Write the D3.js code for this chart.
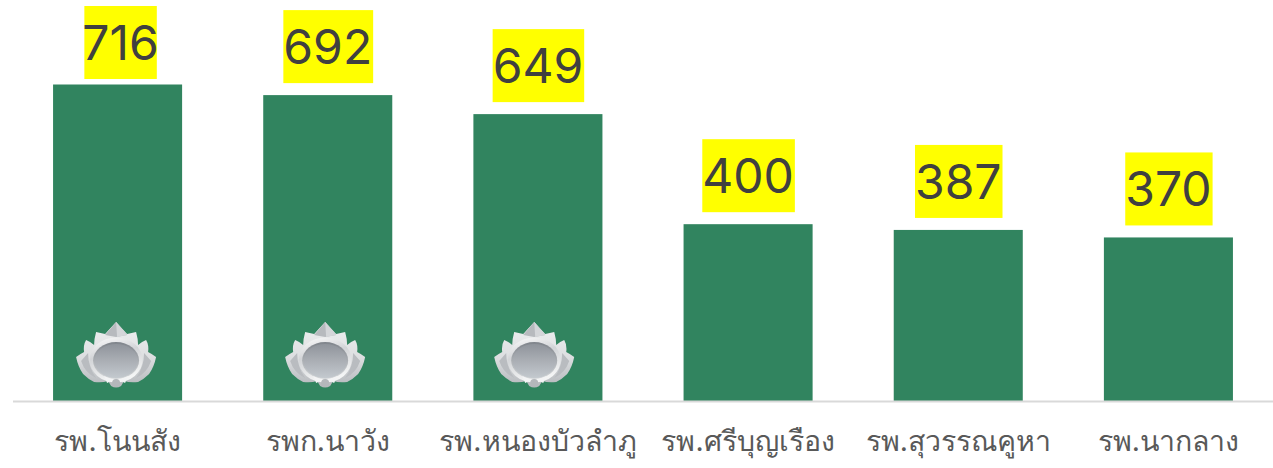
<!DOCTYPE html>
<html>
<head>
<meta charset="utf-8">
<script src="https://cdn.jsdelivr.net/npm/d3@7"></script>
<style>
  html, body { margin: 0; padding: 0; background: #fff; }
  svg { display: block; }
  text { font-family: Inter, "Noto Sans", "DejaVu Sans", sans-serif; }
</style>
</head>
<body>
<div id="chart"></div>
<script>
const hospitals = ["รพ.โนนสัง", "รพก.นาวัง", "รพ.หนองบัวลำภู", "รพ.ศรีบุญเรือง", "รพ.สุวรรณคูหา", "รพ.นากลาง"];
const totals = [716, 692, 649, 400, 387, 370];
const medalHospitals = ["รพ.โนนสัง", "รพก.นาวัง", "รพ.หนองบัวลำภู"];

const width = 1273, height = 468;
const baseY = 401;

const svg = d3.select('#chart').append('svg')
  .attr('width', width)
  .attr('height', height);

const scaleX = d3.scaleBand()
  .domain(hospitals)
  .range([12.5, 1273.5])
  .paddingInner(0.386)
  .paddingOuter(0.193);

const scaleY = d3.scaleLinear()
  .domain([0, 716])
  .range([baseY, 84.5]);

// gradients for the silver medal
const defs = svg.append('defs');
function grad(id, x2, y2, stops) {
  const g = defs.append('linearGradient').attr('id', id)
    .attr('x1', 0).attr('y1', 0).attr('x2', x2).attr('y2', y2);
  stops.forEach(s => g.append('stop').attr('offset', s[0]).attr('stop-color', s[1]));
}
grad('leaf', 0, 1, [[0, '#eef0f1'], [0.55, '#dcdee0'], [1, '#b4b7bb']]);
grad('ring', 0.3, 1, [[0, '#fdfdfd'], [0.45, '#d2d4d7'], [1, '#f4f5f5']]);
grad('rim', 0, 1, [[0, '#7f848b'], [1, '#d5d8da']]);
grad('face', 0, 1, [[0, '#8f949b'], [0.45, '#a8acb2'], [1, '#c3c9ce']]);
defs.append('filter').attr('id', 'soft')
  .append('feGaussianBlur').attr('stdDeviation', 0.5);

// bars
svg.selectAll('rect.bar')
  .data(totals)
  .enter()
  .append('rect')
  .attr('class', 'bar')
  .attr('x', (d, i) => scaleX(hospitals[i]))
  .attr('y', d => scaleY(d))
  .attr('width', scaleX.bandwidth())
  .attr('height', d => baseY - scaleY(d))
  .attr('fill', '#31845f');

// axis line + category labels
const xAxis = d3.axisBottom(scaleX).tickSize(0).tickPadding(30);
const axisG = svg.append('g')
  .attr('transform', `translate(0,${baseY})`)
  .call(xAxis);
axisG.select('.domain').attr('stroke', '#d9d9d9').attr('stroke-width', 2);
axisG.selectAll('text')
  .attr('font-size', 28.5)
  .attr('fill', '#595959')
  .style('font-family', 'Inter, "Noto Sans", "DejaVu Sans", sans-serif');

// yellow value labels, the tallest one gets pushed down against the top edge
const labelTop = d => Math.max(6, scaleY(d) - 85);
const labelX = (d, i) => scaleX(hospitals[i]) + scaleX.bandwidth() / 2 + (d === d3.max(totals) ? 3 : 0);

const labels = svg.selectAll('g.lab')
  .data(totals)
  .enter()
  .append('g')
  .attr('class', 'lab');

labels.append('text')
  .attr('x', labelX)
  .attr('y', d => labelTop(d) + 54)
  .attr('text-anchor', 'middle')
  .attr('font-size', 48)
  .attr('fill', '#404040')
  .text(d => d);

labels.insert('rect', 'text')
  .attr('fill', '#ffff00')
  .each(function (d, i) {
    const w = this.parentNode.querySelector('text').getComputedTextLength();
    d3.select(this)
      .attr('x', labelX(d, i) - w / 2 + (d === d3.max(totals) ? 2 : 0))
      .attr('width', d === d3.max(totals) ? w - 4 : w + 1)
      .attr('y', labelTop(d))
      .attr('height', 73);
  });

// medals on the top three
const medals = svg.selectAll('g.medal')
  .data(medalHospitals)
  .enter()
  .append('g')
  .attr('class', 'medal')
  .attr('filter', 'url(#soft)')
  .attr('transform', (d, i) => `translate(${scaleX(d) + scaleX.bandwidth() / 2 - 1.5 - i * 1.1},359)`);

// petals behind the ring
medals.append('path')
  .attr('d', 'M-40,-2 Q-36,-5 -32,-7 Q-33,-14 -30,-19 Q-25,-17 -22,-14 Q-22,-20 -20,-27 L-11,-25 L0,-37 L11,-25 L20,-27 Q22,-20 22,-14 Q25,-17 30,-19 Q33,-14 32,-7 Q36,-5 40,-2 Q38,8 33,15 Q28,20 22,23 Q14,24 8,22 L5,27 Q0,30 -5,27 L-8,22 Q-14,24 -22,23 Q-28,20 -33,15 Q-38,8 -40,-2 Z')
  .attr('fill', 'url(#leaf)');
// crown at the top
medals.append('path')
  .attr('d', 'M0,-37 L11,-24 L0,-22 L-11,-24 Z')
  .attr('fill', '#b7babe');
medals.append('path')
  .attr('d', 'M0,-37 L11,-24 L1,-22 Z')
  .attr('fill', '#d4d6d9');
// darker side folds
medals.append('path')
  .attr('d', 'M-35,2 Q-31,14 -20,19 Q-28,8 -28,-6 Z M35,2 Q31,14 20,19 Q28,8 28,-6 Z')
  .attr('fill', '#b9bcc0');
// ring
medals.append('ellipse')
  .attr('cy', 1).attr('rx', 26.5).attr('ry', 22.5)
  .attr('fill', 'url(#ring)');
medals.append('ellipse')
  .attr('cy', 1.5).attr('rx', 23).attr('ry', 18.5)
  .attr('fill', 'url(#rim)');
// face
medals.append('ellipse')
  .attr('cy', 2).attr('rx', 21.5).attr('ry', 17)
  .attr('fill', 'url(#face)');
// bottom gem and clasps
medals.append('path')
  .attr('d', 'M-12,17 L-3,21 L-9,24 Z M12,17 L3,21 L9,24 Z')
  .attr('fill', '#f3f4f5');
medals.append('circle')
  .attr('cy', 24).attr('r', 4)
  .attr('fill', '#b4b7bb');
</script>
</body>
</html>
